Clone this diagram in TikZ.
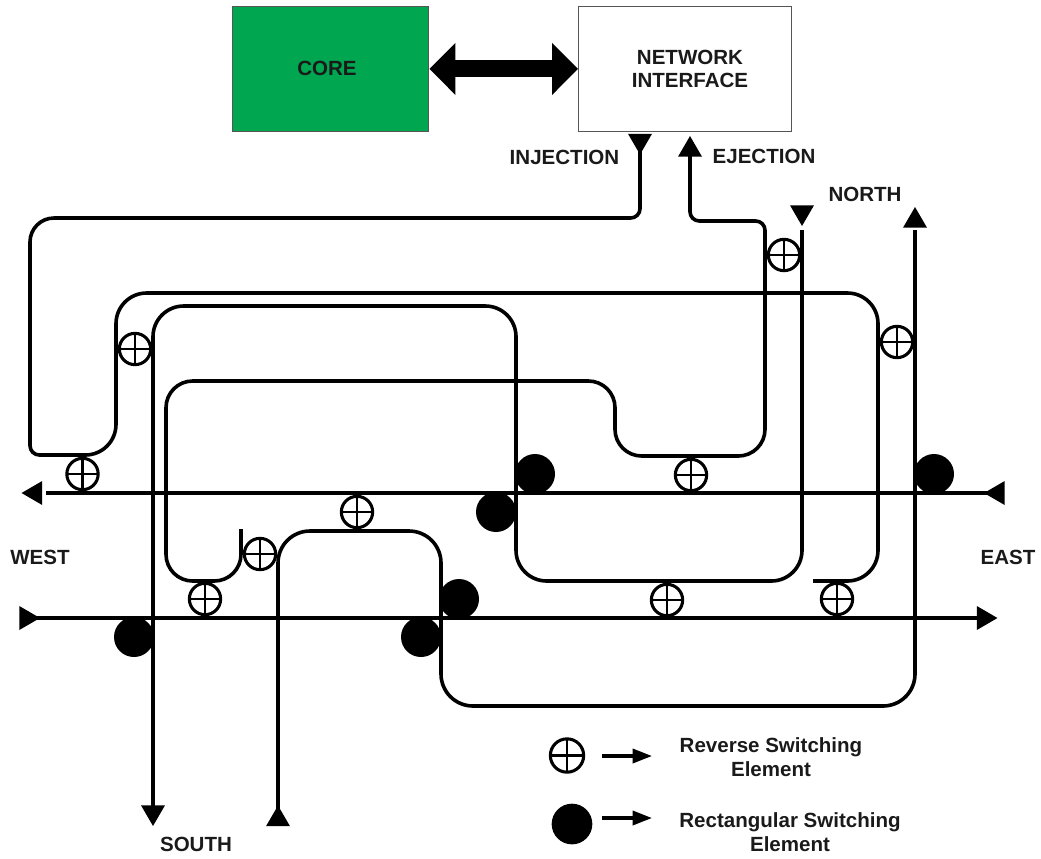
\documentclass[tikz,border=0pt]{standalone}
\usepackage{fontspec}
\setmainfont{Liberation Sans}
\usetikzlibrary{arrows.meta,shapes.geometric}
\definecolor{coregreen}{HTML}{00A650}
\definecolor{boxedge}{HTML}{555555}
\definecolor{inktext}{HTML}{1A1A1A}
\tikzset{
  wire/.style={line width=2.7pt,black,line join=round},
  lab/.style={font=\fontsize{15.4pt}{17.6pt}\selectfont\bfseries,text=inktext,align=center,inner sep=0},
  boxnode/.style={draw=boxedge,line width=1.1pt,anchor=north west,inner sep=0},
  rev/.style={circle,draw=black,fill=white,line width=2.3pt,minimum size=23.5pt,inner sep=0,
    path picture={
      \draw[line width=2pt] (path picture bounding box.north)--(path picture bounding box.south);
      \draw[line width=2pt] (path picture bounding box.west)--(path picture bounding box.east);}},
  rect/.style={circle,fill=black,minimum size=30pt,inner sep=0},
  tip/.style={isosceles triangle,isosceles triangle apex angle=62,isosceles triangle stretches,
    fill=black,inner sep=0,minimum height=15.5pt,minimum width=18pt,anchor=apex},
  tipup/.style={tip,shape border rotate=90},
  tipdown/.style={tip,shape border rotate=-90},
  tipleft/.style={tip,shape border rotate=180},
  tipright/.style={tip,shape border rotate=0},
  legarrow/.style={line width=2.6pt,-{Triangle[length=14.5pt,width=10.5pt]}}
}
\begin{document}
\begin{tikzpicture}[x=0.75pt,y=-0.75pt]
\useasboundingbox (0,0) rectangle (1041,858);

% boxes
\node[boxnode,fill=coregreen,minimum width=147pt,minimum height=94pt] (core) at (232,5.5) {};
\node[boxnode,fill=white,minimum width=159.5pt,minimum height=94pt] (ni) at (578,5.5) {};
\node[lab] (coretext) at (327,68) {CORE};
\node[lab] (nitext) at (690,69) {NETWORK\\INTERFACE};
\draw[line width=12.8pt,{Triangle[length=19.5pt,width=38pt]}-{Triangle[length=19.5pt,width=38pt]}] (core.east) -- (ni.west);

% terminals
\node[tipdown] (inj) at (640,155) {};
\node[tipup] (ej) at (690,135.5) {};
\node[tipdown] (ndown) at (802,226.5) {};
\node[tipup] (nup) at (915,206.5) {};
\node[tipleft] (wout) at (21,493) {};
\node[tipleft] (ein) at (983.5,493) {};
\node[tipright] (win) at (40.5,618) {};
\node[tipright] (eout) at (998,618) {};
\node[tipdown] (sout) at (153,826.5) {};
\node[tipup] (sin) at (278,805) {};

% free ends
\coordinate (westline) at (46,493);
\coordinate (nd) at (802,230);
\coordinate (nu) at (915,230);
\coordinate (endC) at (241,529);
\coordinate (endA) at (813,581);

% main lines
\draw[wire] (ein.center) -- (westline);
\draw[wire] (win.center) -- (eout.center);

% injection -> ... -> east stub
\draw[wire,rounded corners=7pt] (inj.center) -- (640,218) [rounded corners=18pt] -- (30,218)
  [rounded corners=7pt] -- (30,455) [rounded corners=23pt] -- (116,455)
  -- (116,293) -- (878,293) -- (878,581) -- (endA);

% north-in -> south-out
\draw[wire,rounded corners=23pt] (nd) -- (802,581) -- (516,581) -- (516,306) -- (153,306) -- (sout.center);

% ejection route
\draw[wire,rounded corners=7pt] (ej.center) -- (690,221) -- (765,221)
  [rounded corners=20pt] -- (765,456) -- (615,456) -- (615,381) -- (166,381) -- (166,581) -- (241,581) -- (endC);

% south-in -> north-out
\draw[wire,rounded corners=24pt] (sin.center) -- (278,531) -- (441,531) -- (441,706) -- (915,706) -- (nu);

% rectangular switching elements
\node[rect] (r1) at (134,637) {};
\node[rect] (r2) at (421,637) {};
\node[rect] (r3) at (459,599) {};
\node[rect] (r4) at (496,512) {};
\node[rect] (r5) at (535,474) {};
\node[rect] (r6) at (934,474) {};

% reverse switching elements
\node[rev] (s1) at (82.5,474) {};
\node[rev] (s2) at (135,349) {};
\node[rev] (s3) at (784,255) {};
\node[rev] (s4) at (897,342) {};
\node[rev] (s5) at (691,475) {};
\node[rev] (s6) at (357,512) {};
\node[rev] (s7) at (260,554) {};
\node[rev] (s8) at (205,599) {};
\node[rev] (s9) at (667,600) {};
\node[rev] (s10) at (837,599) {};

% labels
\node[lab] (linj) at (564.5,157) {INJECTION};
\node[lab] (lej) at (764,156.5) {EJECTION};
\node[lab] (lnorth) at (865,194) {NORTH};
\node[lab] (lwest) at (40,557) {WEST};
\node[lab] (least) at (1008,557) {EAST};
\node[lab] (lsouth) at (196,844) {SOUTH};

% legend
\node[rev,minimum size=25pt] (legrev) at (567,755.5) {};
\node[rect,minimum size=30.5pt] (legrect) at (572,824) {};
\coordinate (a1s) at (602,756);
\coordinate (a1e) at (652,756);
\coordinate (a2s) at (602,818);
\coordinate (a2e) at (652,818);
\draw[legarrow] (a1s) -- (a1e);
\draw[legarrow] (a2s) -- (a2e);
\node[lab] (t1) at (771,757) {Reverse Switching\\Element};
\node[lab] (t2) at (790,832) {Rectangular Switching\\Element};
\end{tikzpicture}
\end{document}
